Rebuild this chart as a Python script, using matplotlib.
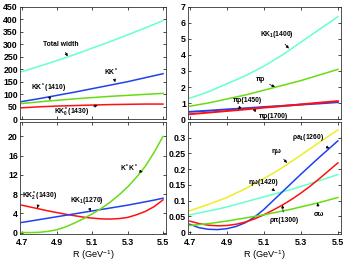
import matplotlib
matplotlib.use("Agg")
import matplotlib.pyplot as plt
from matplotlib.ticker import FixedLocator

plt.rcParams['font.family'] = ['Liberation Sans', 'DejaVu Sans']
plt.rcParams['font.weight'] = 'bold'
plt.rcParams['mathtext.default'] = 'regular'

R = [4.7, 4.8, 4.9, 5.0, 5.1, 5.2, 5.3, 5.4, 5.5]
R_fine = [4.7, 4.75, 4.8, 4.85, 4.9, 4.95, 5.0, 5.05, 5.1, 5.15, 5.2,
          5.25, 5.3, 5.35, 5.4, 5.45, 5.5]

# Top-left panel
total_width = [190, 212, 235, 259, 285, 311, 338, 366, 395]
kk_star = [70, 82, 95, 108, 122, 136, 150, 166, 182]
kk_star1410 = [62, 69, 75, 81, 86, 91, 95, 99, 103]
kk0_1430 = [45, 49, 52, 54, 56, 58, 59, 60, 60]

# Top-right panel
kk1_1400 = [1.3, 1.7, 2.2, 2.7, 3.3, 4.0, 4.8, 5.6, 6.4]
pi_rho = [0.8, 1.0, 1.25, 1.5, 1.8, 2.1, 2.4, 2.75, 3.1]
pi_rho1450 = [0.45, 0.52, 0.6, 0.67, 0.75, 0.82, 0.9, 0.97, 1.05]
pi_rho1700 = [0.3, 0.4, 0.5, 0.6, 0.71, 0.81, 0.91, 1.02, 1.12]

# Bottom-left panel (R_fine)
kstar_kstar = [0.0, 0.0, 0.05, 0.25, 0.6, 1.2, 2.0, 2.9, 3.9, 5.0, 6.3,
               7.8, 9.5, 11.5, 13.8, 16.7, 20.0]
kk2_1430 = [5.7, 5.3, 4.9, 4.5, 4.15, 3.8, 3.5, 3.2, 3.0, 2.85, 2.8,
            2.9, 3.15, 3.7, 4.4, 5.4, 6.8]
kk1_1270 = [2.1, 2.4, 2.7, 3.0, 3.3, 3.6, 3.9, 4.2, 4.5, 4.8, 5.1,
            5.4, 5.7, 6.05, 6.4, 6.75, 7.15]

# Bottom-right panel (R_fine)
eta_omega = [0.068, 0.078, 0.088, 0.099, 0.11, 0.124, 0.138, 0.154, 0.17,
             0.187, 0.205, 0.225, 0.245, 0.265, 0.285, 0.305, 0.325]
eta_omega1420 = [0.055, 0.061, 0.067, 0.073, 0.08, 0.088, 0.096, 0.104, 0.112,
                 0.12, 0.128, 0.136, 0.145, 0.154, 0.164, 0.173, 0.183]
rho_a1_1260 = [0.025, 0.014, 0.009, 0.008, 0.011, 0.018, 0.03, 0.048, 0.072,
               0.1, 0.128, 0.156, 0.184, 0.211, 0.238, 0.264, 0.29]
rho_pi1300 = [0.035, 0.027, 0.022, 0.02, 0.021, 0.025, 0.032, 0.042, 0.055,
              0.07, 0.086, 0.104, 0.124, 0.146, 0.17, 0.195, 0.22]
sigma_omega = [0.021, 0.024, 0.027, 0.031, 0.035, 0.04, 0.045, 0.05, 0.055,
               0.061, 0.067, 0.073, 0.08, 0.087, 0.094, 0.102, 0.11]

xticks = [4.7, 4.9, 5.1, 5.3, 5.5]
xtick_labels = ['4.7', '4.9', '5.1', '5.3', '5.5']

CYAN = '#66ffd0'
BLUE = '#2040f0'
GREEN = '#66dd11'
RED = '#ff1010'
YELLOW = '#eeee22'

fig = plt.figure(figsize=(3.56, 2.61), dpi=100)
W, H = 356, 261

def make_ax(x0, x1, y0, y1):
    return fig.add_axes([x0 / W, 1 - y1 / H, (x1 - x0) / W, (y1 - y0) / H])

ax_tl = make_ax(20, 166, 7, 119)
ax_tr = make_ax(188, 341, 7, 119)
ax_bl = make_ax(20, 166, 122, 234)
ax_br = make_ax(188, 341, 122, 234)

FS = 6.3
FSA = 4.9
lw = 1.1

def style(ax, bottom_labels):
    ax.set_xlim(4.69, 5.517)
    ax.xaxis.set_major_locator(FixedLocator(xticks))
    if bottom_labels:
        ax.set_xticklabels(xtick_labels)
        ax.set_xlabel('R (GeV$^{-1}$)', fontsize=FS + 0.3, labelpad=1)
    else:
        ax.set_xticklabels([])
    ax.tick_params(direction='in', top=True, right=True, length=2, width=0.5,
                   labelsize=FS)
    ax.tick_params(axis='x', pad=2.8)
    ax.tick_params(axis='y', pad=1.5)
    for s in ax.spines.values():
        s.set_linewidth(0.6)
        s.set_color('#333333')

def ann(ax, text, xy, xytext):
    ax.annotate(text, xy=xy, xytext=xytext, fontsize=FSA, ha='center', va='center',
                arrowprops=dict(arrowstyle='-|>', color='black', lw=0.5,
                                mutation_scale=4, shrinkA=1.5, shrinkB=0))

# Top-left
ax = ax_tl
ax.plot(R, total_width, color=CYAN, lw=lw)
ax.plot(R, kk_star, color=BLUE, lw=lw)
ax.plot(R, kk_star1410, color=GREEN, lw=lw)
ax.plot(R, kk0_1430, color=RED, lw=lw)
ax.set_ylim(0, 450)
ax.set_yticks(range(0, 451, 50))
style(ax, False)
ann(ax, 'Total width', (4.96, 252), (4.92, 300))
ann(ax, 'KK$^*$', (5.23, 148), (5.21, 188))
ann(ax, 'KK$^*$(1410)', (4.86, 76), (4.85, 123))
ann(ax, 'KK$_0^*$(1430)', (5.13, 55), (4.98, 28))

# Top-right
ax = ax_tr
ax.plot(R, kk1_1400, color=CYAN, lw=lw)
ax.plot(R, pi_rho, color=GREEN, lw=lw)
ax.plot(R, pi_rho1450, color=BLUE, lw=lw + 0.3)
ax.plot(R, pi_rho1700, color=RED, lw=lw + 0.3)
ax.set_ylim(0, 7)
ax.set_yticks(range(0, 8))
style(ax, False)
ann(ax, 'KK$_1$(1400)', (5.235, 4.4), (5.17, 5.3))
ann(ax, 'πρ', (5.16, 2.0), (5.08, 2.45))
ann(ax, 'πρ(1450)', (4.96, 0.62), (5.01, 1.15))
ann(ax, 'πρ(1700)', (5.04, 0.58), (5.15, 0.17))

# Bottom-left
ax = ax_bl
ax.plot(R_fine, kk2_1430, color=RED, lw=lw)
ax.plot(R_fine, kk1_1270, color=BLUE, lw=lw)
ax.plot(R_fine, kstar_kstar, color=GREEN, lw=lw)
ax.set_ylim(-0.3, 23)
ax.set_yticks(range(0, 21, 4))
style(ax, True)
ann(ax, 'KK$_2^*$(1430)', (4.79, 5.1), (4.8, 7.6))
ann(ax, 'KK$_1$(1270)', (5.09, 4.4), (5.07, 6.6))
ann(ax, 'K$^*$K$^*$', (5.385, 12.6), (5.31, 13.3))

# Bottom-right
ax = ax_br
ax.plot(R_fine, eta_omega, color=YELLOW, lw=lw)
ax.plot(R_fine, eta_omega1420, color=CYAN, lw=lw)
ax.plot(R_fine, rho_a1_1260, color=BLUE, lw=lw)
ax.plot(R_fine, rho_pi1300, color=RED, lw=lw)
ax.plot(R_fine, sigma_omega, color=GREEN, lw=lw)
ax.set_ylim(-0.006, 0.35)
ax.set_yticks([0, 0.05, 0.1, 0.15, 0.2, 0.25, 0.3])
ax.set_yticklabels(['0', '0.05', '0.1', '0.15', '0.2', '0.25', '0.3'])
style(ax, True)
ann(ax, 'ρa$_1$(1260)', (5.454, 0.266), (5.34, 0.30))
ann(ax, 'ηω', (5.225, 0.22), (5.17, 0.257))
ann(ax, 'ηω(1420)', (5.16, 0.13), (5.10, 0.159))
ann(ax, 'ρπ(1300)', (5.20, 0.086), (5.21, 0.037))
ann(ax, 'σω', (5.39, 0.093), (5.40, 0.055))

fig.savefig('out.png', dpi=100)
